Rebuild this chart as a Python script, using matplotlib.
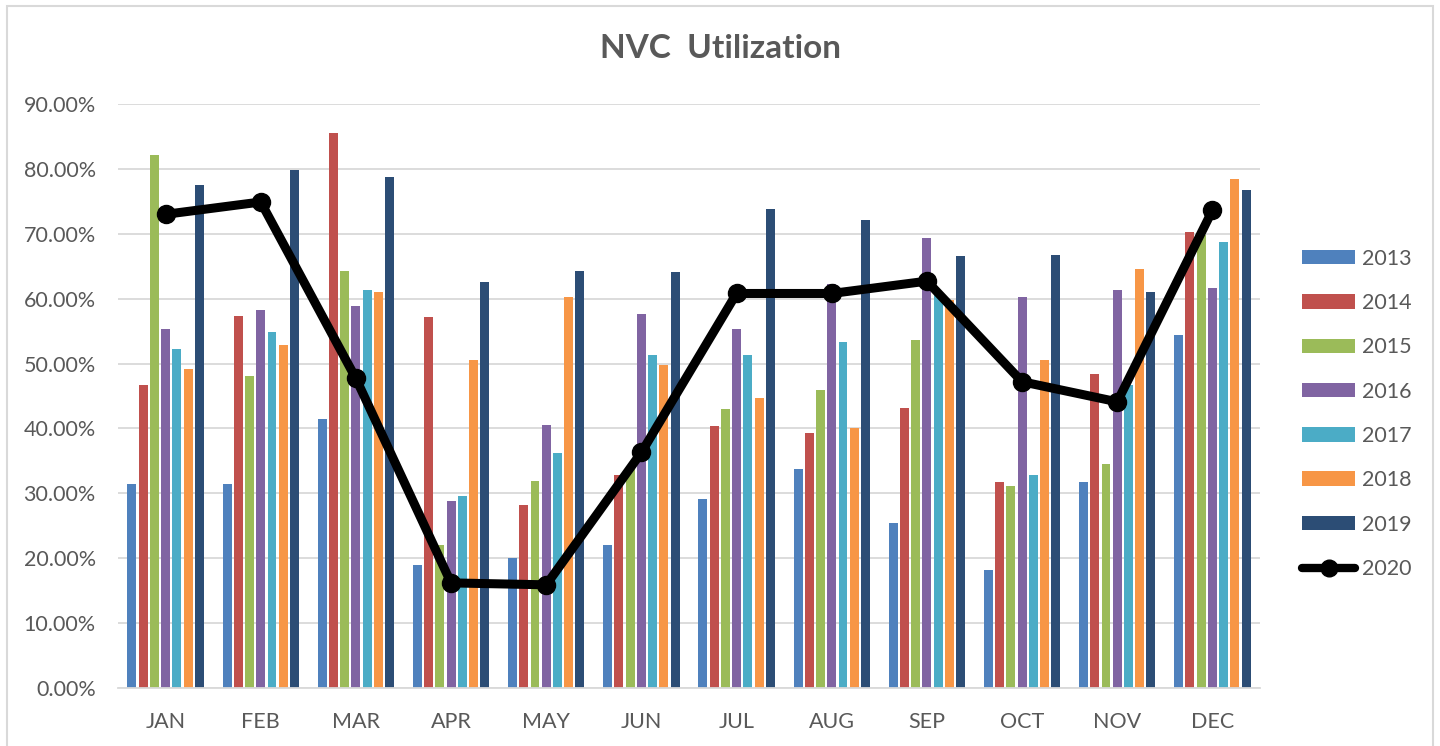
import matplotlib
matplotlib.use("Agg")
import matplotlib.pyplot as plt
import numpy as np
from matplotlib.patches import Patch, Rectangle
from matplotlib.lines import Line2D
from matplotlib.ticker import FuncFormatter

months = ["JAN", "FEB", "MAR", "APR", "MAY", "JUN", "JUL", "AUG", "SEP", "OCT", "NOV", "DEC"]
y2013 = [31.5, 31.4, 41.4, 18.9, 20.0, 22.0, 29.1, 33.7, 25.4, 18.2, 31.7, 54.4]
y2014 = [46.7, 57.4, 85.5, 57.2, 28.2, 32.8, 40.3, 39.3, 43.2, 31.7, 48.4, 70.3]
y2015 = [82.2, 48.1, 64.2, 22.0, 31.9, 33.8, 43.0, 46.0, 53.7, 31.1, 34.5, 69.8]
y2016 = [55.3, 58.3, 58.9, 28.8, 40.6, 57.7, 55.3, 62.2, 69.4, 60.3, 61.3, 61.6]
y2017 = [52.3, 54.8, 61.4, 29.6, 36.2, 51.3, 51.3, 53.3, 60.7, 32.9, 46.7, 68.8]
y2018 = [49.1, 52.8, 61.1, 50.6, 60.2, 49.8, 44.7, 40.1, 59.8, 50.6, 64.5, 78.4]
y2019 = [77.5, 79.8, 78.8, 62.5, 64.3, 64.1, 73.8, 72.2, 66.6, 66.8, 61.0, 76.7]
y2020 = [73.0, 74.9, 47.7, 16.2, 15.9, 36.3, 60.8, 60.8, 62.7, 47.2, 44.1, 73.6]

bar_series = [("2013", y2013), ("2014", y2014), ("2015", y2015), ("2016", y2016),
              ("2017", y2017), ("2018", y2018), ("2019", y2019)]
colors = ["#4F81BD", "#C0504D", "#9BBB59", "#8064A2", "#4BACC6", "#F79646", "#2C4D75"]

FONT = ["Lato", "DejaVu Sans"]
plt.rcParams['font.family'] = FONT
TXT = "#595959"

fig = plt.figure(figsize=(14.4, 7.46), dpi=100)
ax = fig.add_axes([118/1440, 1 - 688/746, (1260 - 118)/1440, (688 - 104)/746])

x = np.arange(len(months))
step = 0.118
width = 0.094
for i, ((label, vals), c) in enumerate(zip(bar_series, colors)):
    ax.bar(x + (i - 3) * step, np.array(vals) / 100.0, width=width, color=c, zorder=2, label=label)

ax.plot(x, np.array(y2020) / 100.0, color="black", lw=6.5, marker="o", markersize=13,
        zorder=3, solid_capstyle="round", label="2020")

ax.set_xlim(-0.5, 11.5)
ax.set_ylim(0, 0.9)
ax.set_yticks(np.arange(0, 0.91, 0.1))
ax.yaxis.set_major_formatter(FuncFormatter(lambda v, p: f"{v*100:.2f}%"))
ax.set_xticks(x)
ax.set_xticklabels(months)
ax.tick_params(axis="both", length=0, labelsize=15.5, labelcolor=TXT)
ax.tick_params(axis="y", pad=16)
ax.tick_params(axis="x", pad=17)
ax.grid(axis="y", color="#D9D9D9", lw=1.3, zorder=0)
ax.set_axisbelow(True)
for s in ["top", "right", "left"]:
    ax.spines[s].set_visible(False)
ax.spines["bottom"].set_color("#D9D9D9")
ax.spines["bottom"].set_linewidth(1.3)

fig.text(720/1440, 1 - 49/746, "NVC  Utilization", ha="center", va="center",
         fontsize=24, fontweight="bold", color=TXT)

handles = [Patch(facecolor=c, edgecolor="none") for c in colors]
handles.append(Line2D([0], [0], color="black", lw=6, marker="o", markersize=12, solid_capstyle="round"))
labels = [s[0] for s in bar_series] + ["2020"]
leg = fig.legend(handles, labels, loc="upper left", bbox_to_anchor=(1293/1440, 1 - 240/746),
                 frameon=False, fontsize=15.5, handlelength=2.5, handleheight=0.65,
                 labelspacing=1.13, handletextpad=0.3, borderaxespad=0)
for t in leg.get_texts():
    t.set_color(TXT)

fig.patches.append(Rectangle((7/1440, -0.01), (1433 - 7)/1440, 1 - 6/746 + 0.01,
                             transform=fig.transFigure, fill=False, edgecolor="#D9D9D9", lw=1.5))

fig.savefig("out.png", dpi=100)
